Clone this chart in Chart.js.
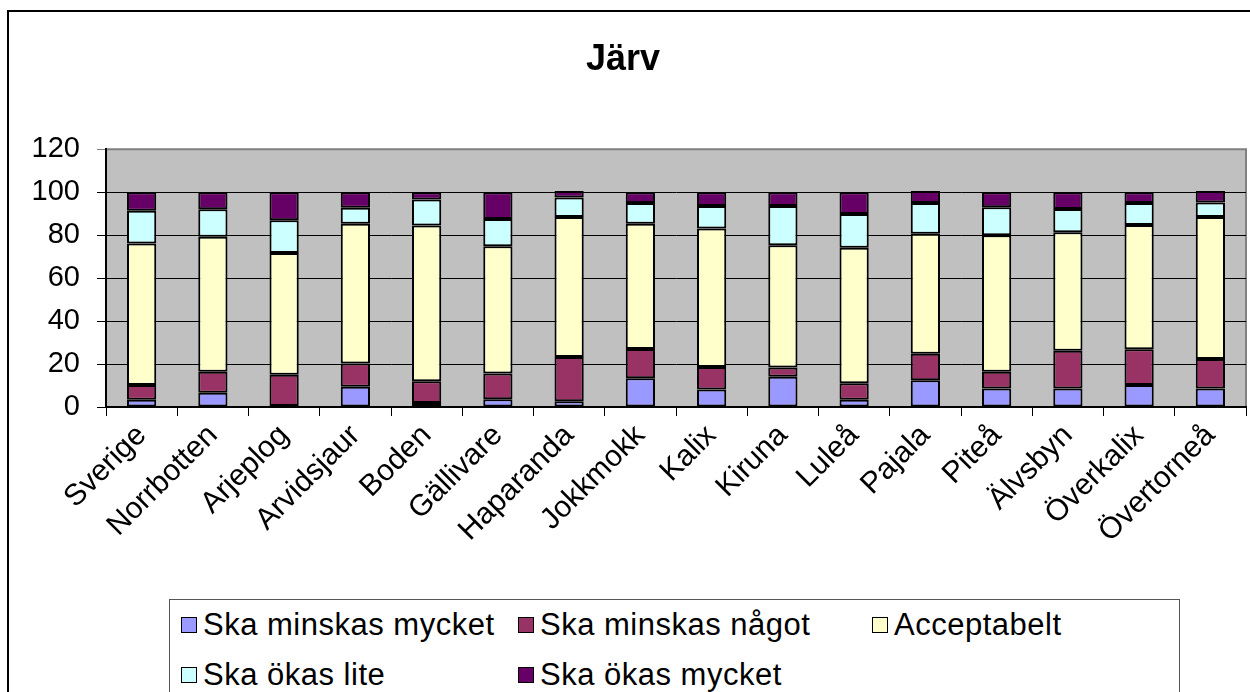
<!DOCTYPE html>
<html>
<head>
<meta charset="utf-8">
<script src="https://cdn.jsdelivr.net/npm/chart.js@4/dist/chart.umd.min.js"></script>
<style>
    body { margin: 0; overflow: hidden; background: #fff; }
    #wrap { position: absolute; left: 0; top: 0; width: 1270px; height: 700px; }
    #legend {
        position: absolute; left: 169px; top: 599px; width: 1011px; height: 120px;
        border: 1px solid #555; background: #fff; box-sizing: border-box;
        display: grid; grid-template-columns: 337px 354px auto; grid-auto-rows: 50px;
        padding-left: 11px;
        font-family: "Liberation Sans", Arial, sans-serif; font-size: 31px; letter-spacing: 0.5px; color: #000;
    }
    #legend .item { display: flex; align-items: center; white-space: nowrap; }
    #legend .box { width: 14px; height: 14px; border: 1px solid #000; margin-right: 6px; flex: none; }
</style>
</head>
<body>
<div id="wrap">
    <canvas id="myChart" width="1270" height="700"></canvas>
    <div id="legend"></div>
</div>
<script>
// categories (kommuner)
let categories = ['Sverige', 'Norrbotten', 'Arjeplog', 'Arvidsjaur', 'Boden', 'Gällivare', 'Haparanda', 'Jokkmokk',
    'Kalix', 'Kiruna', 'Luleå', 'Pajala', 'Piteå', 'Älvsbyn', 'Överkalix', 'Övertorneå'];

// series values, percent
let minskasMycket = [3.4, 6.6, 0.5, 9.4, 1.9, 3.6, 2.7, 13.4, 8.1, 14.1, 3.4, 12.5, 8.6, 8.6, 10.2, 8.6];
let minskasNagot = [6.8, 9.8, 14.5, 10.8, 10.1, 12.0, 20.6, 13.6, 10.5, 4.3, 7.7, 12.3, 7.8, 17.6, 16.7, 13.7];
let acceptabelt = [65.9, 62.8, 56.7, 65.1, 72.5, 59.2, 65.1, 58.3, 64.5, 56.9, 63.0, 55.8, 63.6, 55.2, 57.8, 66.1];
let okasLite = [15.3, 12.8, 15.2, 7.5, 12.1, 12.7, 9.1, 9.7, 10.5, 18.3, 15.7, 14.4, 13.0, 10.8, 10.3, 6.8];
let okasMycket = [8.6, 8.0, 13.1, 7.2, 3.4, 12.5, 3.0, 5.0, 6.4, 6.4, 10.2, 5.5, 7.0, 7.8, 5.0, 5.3];

let seriesNames = ['Ska minskas mycket', 'Ska minskas något', 'Acceptabelt', 'Ska ökas lite', 'Ska ökas mycket'];
let seriesColors = ['#9999FF', '#993366', '#FFFFCC', '#CCFFFF', '#660066'];
let seriesData = [minskasMycket, minskasNagot, acceptabelt, okasLite, okasMycket];

// y axis tick labels
let yMin = 0;
let yMax = 120;
let yStep = 20;

const FONT = '"Liberation Sans", Arial, sans-serif';

let datasets = [];
for (let i = 0; i < seriesNames.length; i++) {
    datasets.push({
        label: seriesNames[i],
        data: seriesData[i],
        backgroundColor: seriesColors[i],
        borderColor: '#000',
        borderWidth: 2,
        borderSkipped: false
    });
}

// gray plot area + outer frame of the chart object
const plotBackground = {
    id: 'plotBackground',
    beforeDraw(chart) {
        const ctx = chart.ctx;
        const a = chart.chartArea;
        ctx.save();
        ctx.fillStyle = '#C0C0C0';
        ctx.fillRect(a.left, a.top, a.right - a.left, a.bottom - a.top);
        ctx.strokeStyle = '#808080';
        ctx.lineWidth = 2;
        ctx.beginPath();
        ctx.moveTo(a.left, a.top);
        ctx.lineTo(a.right, a.top);
        ctx.lineTo(a.right, a.bottom);
        ctx.stroke();
        ctx.strokeStyle = '#000';
        ctx.lineWidth = 2;
        ctx.strokeRect(8, 11, 1254, 720);
        ctx.restore();
    }
};

const ctx = document.getElementById('myChart').getContext('2d');
let myChart = new Chart(ctx, {
    type: 'bar',
    data: {
        labels: categories,
        datasets: datasets
    },
    options: {
        responsive: false,
        animation: false,
        layout: {
            padding: { left: 0, right: 24, top: 0, bottom: 143 }
        },
        datasets: {
            bar: { categoryPercentage: 1, barPercentage: 0.41 }
        },
        plugins: {
            legend: { display: false },
            tooltip: { enabled: false },
            title: {
                display: true,
                text: 'Järv',
                color: '#000',
                font: { family: FONT, size: 36, weight: 'bold', lineHeight: 1.2 },
                padding: { top: 38, bottom: 68 }
            }
        },
        scales: {
            x: {
                stacked: true,
                offset: true,
                afterFit(scale) { scale.height = 150; },
                border: { display: true, color: '#000', width: 2 },
                grid: { offset: true, drawOnChartArea: false, drawTicks: true, tickLength: 9, color: '#000' },
                ticks: {
                    autoSkip: false,
                    minRotation: 45,
                    maxRotation: 45,
                    padding: 2,
                    color: '#000',
                    font: { family: FONT, size: 30 }
                }
            },
            y: {
                stacked: true,
                min: yMin,
                max: yMax,
                afterFit(scale) { scale.width = 106; },
                border: { display: true, color: '#000', width: 2 },
                grid: {
                    color: (c) => c.tick && c.tick.value === yMax ? '#808080' : '#000',
                    lineWidth: 1,
                    drawTicks: true,
                    tickLength: 9
                },
                ticks: {
                    stepSize: yStep,
                    padding: 17,
                    color: '#000',
                    font: { family: FONT, size: 29 }
                }
            }
        }
    },
    plugins: [plotBackground]
});

// legend as html, built from the chart datasets
const legendEl = document.getElementById('legend');
myChart.data.datasets.forEach(function (ds) {
    const item = document.createElement('div');
    item.className = 'item';
    const box = document.createElement('span');
    box.className = 'box';
    box.style.background = ds.backgroundColor;
    const txt = document.createElement('span');
    txt.textContent = ds.label;
    item.appendChild(box);
    item.appendChild(txt);
    legendEl.appendChild(item);
});
</script>
</body>
</html>
